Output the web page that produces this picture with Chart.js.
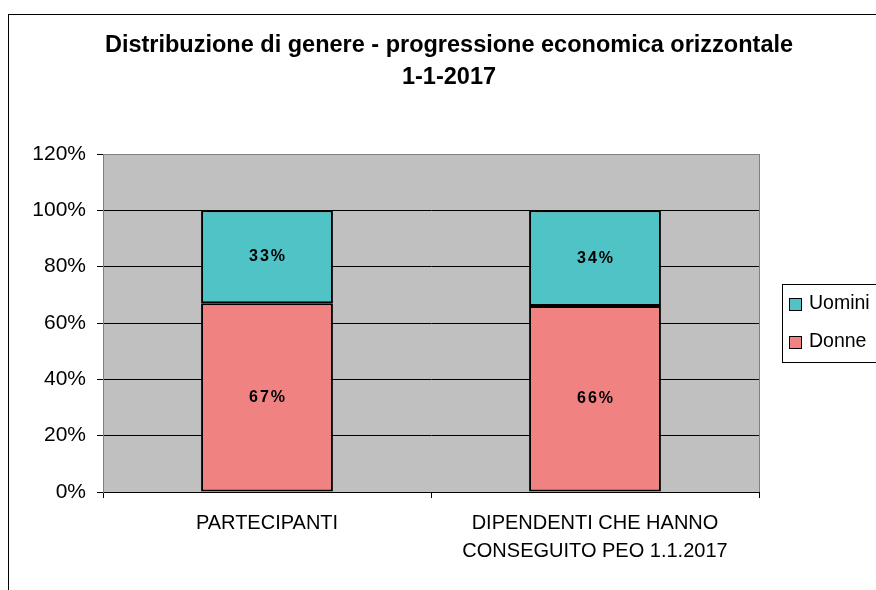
<!DOCTYPE html>
<html>
<head>
<meta charset="utf-8">
<script src="https://cdn.jsdelivr.net/npm/chart.js@4.4.1/dist/chart.umd.min.js"></script>
<style>
	html, body { margin: 0; padding: 0; background: #fff; }
	canvas { display: block; }
</style>
</head>
<body>
<canvas id="genderChart" width="876" height="590"></canvas>
<script>
// Chart data.
var titleLines = ['Distribuzione di genere - progressione economica orizzontale', '1-1-2017'];
var categories = [['PARTECIPANTI'], ['DIPENDENTI CHE HANNO', 'CONSEGUITO PEO 1.1.2017']];
var donne = [67, 66];
var uomini = [33, 34];
var yMin = 0, yMax = 120, yStep = 20;

var FONT = '"Liberation Sans", Arial, sans-serif';

// White page, outer frame and grey plot area.
var backgroundPlugin = {
	id: 'background',
	beforeDraw: function(chart) {
		var ctx = chart.ctx, a = chart.chartArea;
		ctx.save();
		ctx.fillStyle = '#fff';
		ctx.fillRect(0, 0, chart.width, chart.height);
		ctx.strokeStyle = '#000';
		ctx.lineWidth = 1;
		ctx.strokeRect(8.5, 14.5, chart.width + 20, chart.height + 20);
		ctx.fillStyle = '#c0c0c0';
		ctx.fillRect(a.left, a.top, a.right - a.left, a.bottom - a.top);
		ctx.strokeStyle = '#808080';
		ctx.strokeRect(a.left + 0.5, a.top + 0.5, a.right - a.left, a.bottom - a.top);
		ctx.restore();
	}
};

// Title, value labels and legend box.
var overlayPlugin = {
	id: 'overlay',
	afterDatasetsDraw: function(chart) {
		var ctx = chart.ctx;
		ctx.save();
		ctx.fillStyle = '#000';
		ctx.textAlign = 'center';
		ctx.textBaseline = 'middle';
		ctx.font = 'bold 16px ' + FONT;
		if ('letterSpacing' in ctx) ctx.letterSpacing = '2px';
		chart.data.datasets.forEach(function(ds, i) {
			chart.getDatasetMeta(i).data.forEach(function(el, j) {
				ctx.fillText(ds.data[j] + '%', el.x + 1, (el.y + el.base) / 2);
			});
		});
		if ('letterSpacing' in ctx) ctx.letterSpacing = '0px';

		// Title.
		ctx.font = 'bold 23.5px ' + FONT;
		ctx.fillText(titleLines[0], 449, 46);
		ctx.fillText(titleLines[1], 449, 78);

		// Legend (top dataset first).
		ctx.fillStyle = '#fff';
		ctx.fillRect(782, 284, 120, 78);
		ctx.strokeStyle = '#000';
		ctx.lineWidth = 1;
		ctx.strokeRect(782.5, 284.5, 120, 78);
		ctx.font = '19.5px ' + FONT;
		ctx.textAlign = 'left';
		var items = chart.data.datasets.slice().reverse();
		items.forEach(function(ds, k) {
			var cy = 304 + k * 38;
			ctx.fillStyle = ds.backgroundColor;
			ctx.fillRect(789, cy - 6, 13, 13);
			ctx.strokeRect(789.5, cy - 5.5, 12, 12);
			ctx.fillStyle = '#000';
			ctx.fillText(ds.label, 809, cy);
		});
		ctx.restore();
	}
};

new Chart(document.getElementById('genderChart'), {
	type: 'bar',
	data: {
		labels: categories,
		datasets: [{
			label: 'Donne',
			data: donne,
			backgroundColor: '#f08282',
			borderColor: '#000',
			borderWidth: 2,
			borderSkipped: false,
			categoryPercentage: 1,
			barPercentage: 0.402
		}, {
			label: 'Uomini',
			data: uomini,
			backgroundColor: '#4fc3c6',
			borderColor: '#000',
			borderWidth: 2,
			borderSkipped: false,
			categoryPercentage: 1,
			barPercentage: 0.402
		}]
	},
	options: {
		responsive: false,
		animation: false,
		devicePixelRatio: 1,
		layout: { padding: { left: 0, top: 154, right: 117, bottom: 0 } },
		plugins: {
			legend: { display: false },
			title: { display: false },
			tooltip: { enabled: false }
		},
		scales: {
			x: {
				stacked: true,
				grid: {
					offset: true,
					drawOnChartArea: false,
					drawTicks: true,
					tickLength: 6,
					tickColor: '#000'
				},
				border: { color: '#000', width: 1 },
				ticks: {
					color: '#000',
					padding: 11,
					maxRotation: 0,
					font: { family: FONT, size: 20, lineHeight: 1.4 }
				},
				afterFit: function(scale) { scale.height = 98; }
			},
			y: {
				stacked: true,
				min: yMin,
				max: yMax,
				grid: {
					color: function(c) { return c.tick && c.tick.value === yMax ? '#808080' : '#000'; },
					tickColor: '#000',
					tickLength: 6,
					lineWidth: 1
				},
				border: { color: '#808080', width: 1 },
				ticks: {
					stepSize: yStep,
					color: '#000',
					padding: 11,
					font: { family: FONT, size: 21 },
					callback: function(v) { return v + '%'; }
				},
				afterFit: function(scale) { scale.width = 103; }
			}
		}
	},
	plugins: [backgroundPlugin, overlayPlugin]
});
</script>
</body>
</html>
